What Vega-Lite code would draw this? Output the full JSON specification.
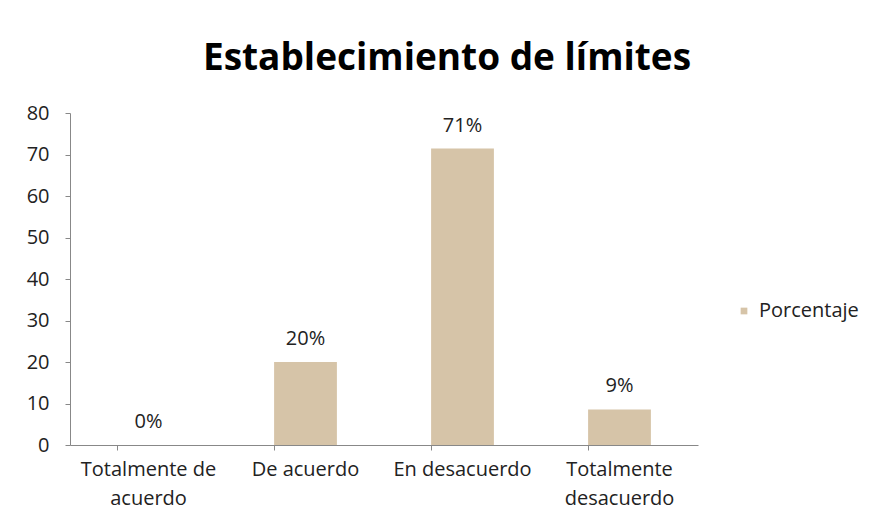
{
  "$schema": "https://vega.github.io/schema/vega-lite/v6.json",
  "width": 628,
  "height": 332,
  "autosize": {"type": "none"},
  "padding": {"left": 70, "top": 113, "right": 185, "bottom": 87},
  "background": "white",
  "title": {
    "text": "Establecimiento de límites",
    "font": "Open Sans",
    "fontSize": 37,
    "fontWeight": "bold",
    "color": "#000000",
    "anchor": "middle",
    "dx": 63,
    "offset": 25
  },
  "data": {
    "values": [
      {"categoria": "Totalmente de acuerdo", "porcentaje": 0, "etiqueta": "0%"},
      {"categoria": "De acuerdo", "porcentaje": 20, "etiqueta": "20%"},
      {"categoria": "En desacuerdo", "porcentaje": 71.43, "etiqueta": "71%"},
      {"categoria": "Totalmente desacuerdo", "porcentaje": 8.57, "etiqueta": "9%"}
    ]
  },
  "config": {
    "view": {"stroke": null},
    "font": "Open Sans"
  },
  "encoding": {
    "x": {
      "field": "categoria",
      "type": "nominal",
      "sort": null,
      "scale": {"paddingInner": 0.6, "paddingOuter": 0.3},
      "axis": {
        "title": null,
        "labelAngle": 0,
        "labelFont": "Open Sans",
        "labelFontSize": 20,
        "labelColor": "#222222",
        "labelPadding": 9,
        "labelLineHeight": 29,
        "labelExpr": "datum.value == 'Totalmente de acuerdo' ? ['Totalmente de', 'acuerdo'] : datum.value == 'Totalmente desacuerdo' ? ['Totalmente', 'desacuerdo'] : datum.value",
        "bandPosition": 0,
        "domainColor": "#888888",
        "tickColor": "#888888",
        "tickSize": 5,
        "grid": false
      }
    },
    "y": {
      "field": "porcentaje",
      "type": "quantitative",
      "scale": {"domain": [0, 80]},
      "axis": {
        "title": null,
        "values": [0, 10, 20, 30, 40, 50, 60, 70, 80],
        "labelFont": "Open Sans",
        "labelFontSize": 20,
        "labelColor": "#222222",
        "labelPadding": 16,
        "domainColor": "#888888",
        "tickColor": "#888888",
        "tickSize": 5,
        "grid": false
      }
    }
  },
  "layer": [
    {
      "mark": {"type": "bar", "opacity": 1},
      "encoding": {
        "color": {
          "datum": "Porcentaje",
          "type": "nominal",
          "scale": {"range": ["#d6c4a8"]},
          "legend": {
            "title": null,
            "orient": "none",
            "legendX": 664,
            "legendY": 188,
            "symbolType": "square",
            "symbolSize": 45,
            "labelFont": "Open Sans",
            "labelFontSize": 20,
            "labelColor": "#222222",
            "labelOffset": 5
          }
        }
      }
    },
    {
      "mark": {"type": "text", "dy": -23, "fontSize": 20, "font": "Open Sans", "color": "#222222"},
      "encoding": {
        "text": {"field": "etiqueta"}
      }
    }
  ]
}
